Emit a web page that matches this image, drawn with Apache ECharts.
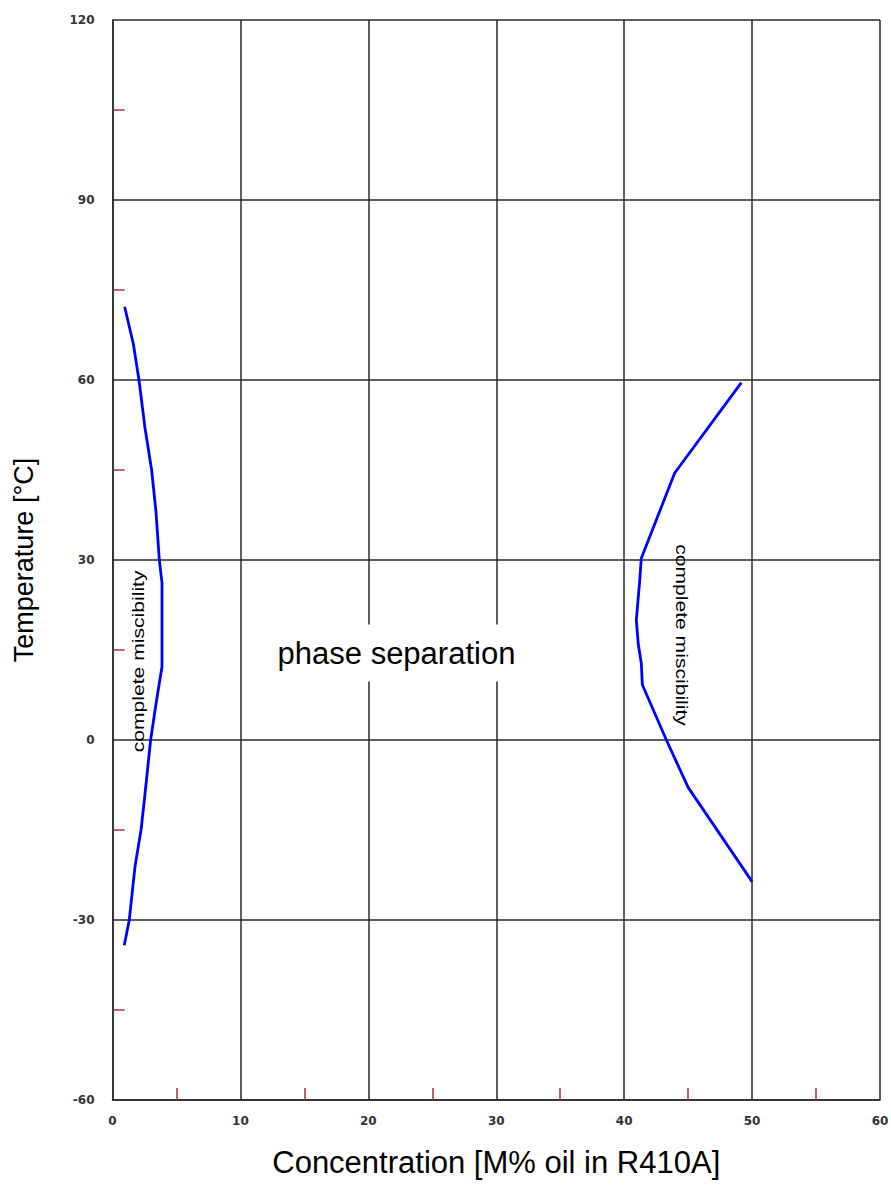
<!DOCTYPE html>
<html>
<head>
<meta charset="utf-8">
<script src="https://cdn.jsdelivr.net/npm/echarts@6/dist/echarts.min.js"></script>
<style>
html,body{margin:0;padding:0;background:#fff;}
#chart{width:891px;height:1186px;}
</style>
</head>
<body>
<div id="chart"></div>
<script>
// ---- Data ----
const xTitle = 'Concentration [M% oil in R410A]';
const yTitle = 'Temperature [°C]';
// Left miscibility boundary: concentration (M% oil) and temperature (°C)
const leftConc = [0.92, 1.31, 1.76, 2.23, 2.49, 2.98, 3.45, 3.87, 3.87, 3.87, 3.66, 3.40, 3.06, 2.54, 2.07, 1.63, 0.95];
const leftTemp = [-34.2, -30, -21.1, -15, -10, 0, 6.7, 12.2, 20, 26.2, 30, 38, 45, 52, 60, 66, 72.2];
// Right miscibility boundary
const rightConc = [50.0, 45.0, 43.3, 41.42, 41.34, 41.1, 40.95, 41.2, 41.34, 43.95, 49.16];
const rightTemp = [-23.6, -7.9, 0, 9.2, 12.8, 16, 20, 26.2, 30.3, 44.5, 59.55];
const xLabels = ['0', '10', '20', '30', '40', '50', '60'];
const yLabels = ['-60', '-30', '0', '30', '60', '90', '120'];
const annotations = [
  {text: 'phase separation', x: 22.2, y: 14.5, kind: 'box'},
  {text: 'complete miscibility', x: 2.0, y: 13.1, kind: 'up'},
  {text: 'complete miscibility', x: 44.5, y: 17.5, kind: 'down'}
];

const toPairs = (xs, ys) => xs.map((v, i) => [v, ys[i]]);

const chart = echarts.init(document.getElementById('chart'), null, {renderer: 'svg'});
const gridColor = '#2a2a2a';
const tickRed = '#a83232';
const labelStyle = {color: '#333', fontFamily: 'DejaVu Sans', fontSize: 12, fontWeight: 'bold'};

chart.setOption({
  animation: false,
  backgroundColor: '#fff',
  grid: {left: 112.5, right: 11, top: 20, bottom: 86, containLabel: false, outerBoundsMode: 'none'},
  xAxis: {
    type: 'value', min: 0, max: 60, interval: 10,
    name: xTitle, nameLocation: 'middle', nameGap: 47,
    nameTextStyle: {fontFamily: 'Liberation Sans', fontSize: 31, color: '#000'},
    axisLine: {show: true, onZero: false, lineStyle: {color: gridColor, width: 1.5}},
    axisTick: {show: false, inside: true},
    minorTick: {show: true, splitNumber: 2, length: 12, lineStyle: {color: tickRed, width: 1.5}},
    axisLabel: Object.assign({margin: 15, formatter: v => xLabels[Math.round(v / 10)]}, labelStyle),
    splitLine: {show: true, lineStyle: {color: gridColor, width: 1.5}}
  },
  yAxis: {
    type: 'value', min: -60, max: 120, interval: 30,
    name: yTitle, nameLocation: 'middle', nameGap: 75, nameRotate: 90,
    nameTextStyle: {fontFamily: 'Liberation Sans', fontSize: 27, color: '#000'},
    axisLine: {show: true, onZero: false, lineStyle: {color: gridColor, width: 1.5}},
    axisTick: {show: false, inside: true},
    minorTick: {show: true, splitNumber: 2, length: 12, lineStyle: {color: tickRed, width: 1.5}},
    axisLabel: Object.assign({margin: 18, formatter: v => yLabels[Math.round((v + 60) / 30)]}, labelStyle),
    splitLine: {show: true, lineStyle: {color: gridColor, width: 1.5}}
  },
  series: [
    {type: 'line', data: toPairs(leftConc, leftTemp), symbol: 'none', z: 5,
     lineStyle: {color: '#0000ff', width: 2.8}},
    {type: 'line', data: toPairs(rightConc, rightTemp), symbol: 'none', z: 5,
     lineStyle: {color: '#0000ff', width: 2.8}}
  ]
});

const graphics = annotations.map(a => {
  const p = chart.convertToPixel({gridIndex: 0}, [a.x, a.y]);
  if (a.kind === 'box') {
    return {type: 'text', x: p[0], y: p[1], z: 100,
      style: {text: a.text, fontFamily: 'Liberation Sans', fontSize: 31, fill: '#000',
        align: 'center', verticalAlign: 'middle', backgroundColor: '#fff', padding: [13, 10, 13, 10]}};
  }
  return {type: 'text', x: p[0], y: p[1], z: 100,
    rotation: a.kind === 'up' ? Math.PI / 2 : -Math.PI / 2,
    scaleX: 1.32,
    style: {text: a.text, fontFamily: 'Liberation Sans', fontSize: 16, fill: '#000',
      align: 'center', verticalAlign: 'middle'}};
});
chart.setOption({graphic: graphics});
</script>
</body>
</html>
